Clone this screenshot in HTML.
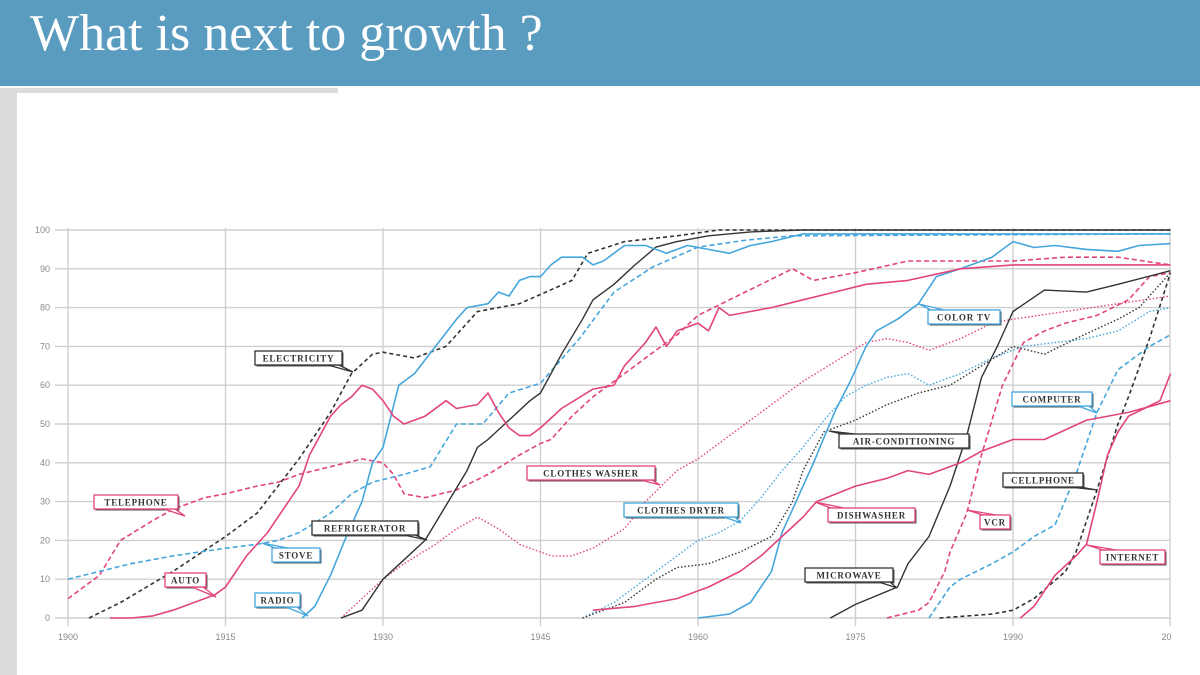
<!DOCTYPE html>
<html><head><meta charset="utf-8"><style>
html,body{margin:0;padding:0;width:1200px;height:675px;overflow:hidden;background:#fff;font-family:"Liberation Sans",sans-serif}
#hdr{position:absolute;left:0;top:0;width:1200px;height:86px;background:#5a9bc0}
#title{position:absolute;left:30px;top:4px;font-family:"Liberation Serif",serif;font-size:52px;color:#fff;line-height:60px}
#strip{position:absolute;left:0;top:88px;width:17px;height:587px;background:#dcdcdc}
#hline{position:absolute;left:0;top:88px;width:338px;height:5px;background:#dcdcdc}
svg{position:absolute;left:0;top:0}
</style></head><body>
<div id="hdr"><div id="title">What is next to growth ?</div></div>
<div id="hline"></div>
<div id="strip"></div>
<svg id="chart" width="1200" height="675"></svg>
<script>
const xTicks=[1900,1915,1930,1945,1960,1975,1990];
const xTickLabels=["1900","1915","1930","1945","1960","1975","1990","20"];
const yTicks=[0,10,20,30,40,50,60,70,80,90,100];
const telephone=[[1900,5],[1903,11],[1905,20],[1908,25],[1910,28],[1913,31],[1915,32],[1918,34],[1920,35],[1922,37],[1925,39],[1928,41],[1930,40],[1931,37],[1932,32],[1934,31],[1937,33],[1940,37],[1943,42],[1945,45],[1946,46],[1948,52],[1950,57],[1953,63],[1955,67],[1958,73],[1960,78],[1963,82],[1966,86],[1969,90],[1971,87],[1975,89],[1980,92],[1985,92],[1990,92],[1995,93],[2000,93],[2005,91]];
const electricity=[[1902,0],[1905,4],[1910,12],[1915,21],[1918,27],[1920,34],[1922,41],[1925,53],[1927,63],[1929,68],[1930,68.5],[1933,67],[1936,70],[1939,79],[1943,81],[1945.5,84],[1948,87],[1949.5,94],[1953,97],[1958,98.5],[1962,100],[2005,100]];
const radio=[[1922.3,0],[1923.5,3],[1925,11],[1926.5,21],[1928,30],[1929,40],[1930,44],[1931.5,60],[1933,63],[1935,70],[1937,77],[1938,80],[1940,81],[1941,84],[1942,83],[1943,87],[1944,88],[1945,88],[1946,91],[1947,93],[1949,93],[1950,91],[1951,92],[1953,96],[1955,96],[1957,94],[1959,96],[1961,95],[1963,94],[1965,96],[1967,97],[1970,99],[1975,99],[2005,99]];
const auto=[[1904,0],[1906,0],[1908,0.5],[1910,2],[1912,4],[1914,6],[1915,8],[1917,16],[1919,22],[1921,30],[1922,34],[1923,42],[1925,52],[1926,55],[1927,57],[1928,60],[1929,59],[1930,56],[1931,52],[1932,50],[1934,52],[1936,56],[1937,54],[1939,55],[1940,58],[1941,53],[1942,49],[1943,47],[1944,47],[1945,49],[1947,54],[1950,59],[1952,60],[1953,65],[1955,71],[1956,75],[1957,70],[1958,74],[1960,76],[1961,74],[1962,80],[1963,78],[1965,79],[1967,80],[1970,82],[1973,84],[1976,86],[1980,87],[1985,90],[1990,91],[1995,91],[2005,91]];
const stove=[[1900,10],[1903,12],[1906,14],[1910,16],[1915,18],[1918,19],[1920,20],[1922,22],[1925,27],[1927,32],[1929,35],[1932,37],[1934.5,39],[1937,50],[1939.5,50],[1942,58],[1945,60.5],[1948.7,72],[1952,84],[1955.7,90.5],[1960,95.6],[1964.6,97.4],[1969,98.5],[2005,99]];
const refrigerator=[[1926,0],[1928,2],[1930,10],[1932,15],[1934,20],[1936,29],[1938,38],[1939,44],[1940,46],[1942,51],[1944,56],[1945,58],[1947,68],[1949,77],[1950,82],[1952,86],[1954,91],[1956,95.6],[1958,97],[1961,98.5],[1965,99.5],[1970,100],[2005,100]];
const washer=[[1926,0],[1928,5],[1930,10],[1932,14],[1935,19],[1937,23],[1939,26],[1941,23],[1943,19],[1946,16],[1948,16],[1950,18],[1953,23],[1955,30],[1956.5,34],[1958,38],[1960,41],[1962,45],[1965,51],[1968,57],[1970,61],[1973,66],[1976,71],[1978,72],[1980,71],[1982,69],[1985,72],[1988,76],[1990,77],[1995,79],[2000,81],[2005,83]];
const dryer=[[1949,0],[1952,4],[1955,10],[1958,16],[1960,20],[1962,22],[1964,25],[1966,31],[1968,38],[1970,44],[1972,51],[1974,57],[1976,60],[1978,62],[1980,63],[1982,60],[1985,63],[1988,67],[1991,70],[1994,71],[1997,72],[2000,74],[2003,79],[2005,80]];
const aircon=[[1949,0],[1953,4],[1956,10],[1958,13],[1961,14],[1964,17],[1967,21],[1969,30],[1970,38],[1972,48],[1975,51],[1978,55],[1981,58],[1984,60],[1987,65],[1990,70],[1993,68],[1996,72],[2000,77],[2002,80],[2005,89]];
const dishwasher=[[1950,2],[1954,3],[1958,5],[1961,8],[1964,12],[1966,16],[1968,21],[1970,26],[1971.3,30],[1975,34],[1978,36],[1980,38],[1982,37],[1985,40],[1987,43],[1990,46],[1993,46],[1997,51],[2001,53],[2005,56]];
const colortv=[[1960,0],[1963,1],[1965,4],[1967,12],[1968,22],[1969,28],[1971,40],[1973,53],[1974.5,61],[1976,70],[1977,74],[1979,77],[1981,81],[1982.7,88],[1985,90],[1988,93],[1990,97],[1992,95.5],[1994,96],[1997,95],[2000,94.5],[2002,96],[2005,96.5]];
const microwave=[[1972.6,0],[1975,3.5],[1979,8],[1980,14],[1982,21],[1984,34],[1985.6,47],[1987,62],[1988.5,70],[1990,79],[1993,84.5],[1997,84],[2000,86],[2005,89.5]];
const vcr=[[1978,0],[1981,2],[1982,4],[1983.5,12],[1984,17],[1985.6,27],[1987,42],[1989,60],[1991,71],[1993,74],[1995,76],[1998,78],[2001,82],[2003,88],[2005,89]];
const computer=[[1982,0],[1984,8],[1985,10],[1988,14],[1990,17],[1992,21],[1994,24],[1996,37],[1998,53],[2000,64],[2003,70],[2005,73]];
const cellphone=[[1983,0],[1988,1],[1990,2],[1992,5],[1995,12],[1996,17],[1998,33],[2000,50],[2001,57],[2003,72],[2005,89]];
const internet=[[1990.7,0],[1992,3],[1994,11],[1996,16],[1997,19],[1998,30],[1999,42],[2000,48],[2001,52],[2004,56],[2005,63]];

const PINK="#e2447e",BLUE="#45a6dc",BLACK="#333";
const X=y=>68+(y-1900)*10.5;
const Y=v=>618-v*3.88;
const NS="http://www.w3.org/2000/svg";
const svg=document.getElementById('chart');
function mk(tag,attrs,parent){const e=document.createElementNS(NS,tag);for(const k in attrs)e.setAttribute(k,attrs[k]);(parent||svg).appendChild(e);return e;}

yTicks.forEach(v=>{
  const l=mk('line',{x1:55,x2:1170,y1:Y(v),y2:Y(v),stroke:'#cfcfcf','stroke-width':1.4});
  
  
  const t=mk('text',{x:50,y:Y(v)+3,'text-anchor':'end','font-size':9,fill:'#888'});
  t.textContent=v;
  
  
});
xTicks.forEach((yr,i)=>{
  const l=mk('line',{x1:X(yr),x2:X(yr),y1:Y(100)-2,y2:Y(0)+8,stroke:'#cfcfcf','stroke-width':1.4});
  
  
});
mk('line',{x1:1170,x2:1170,y1:Y(100)-2,y2:Y(0)+8,stroke:'#cfcfcf','stroke-width':1.4});
xTickLabels.forEach((s,i)=>{
  const t=mk('text',{x:X(1900+15*i)-(i==7?4:0),y:640,'text-anchor':'middle','font-size':9,fill:'#888'});
  t.textContent=s;
  
  
});

const series=[
 ['telephone',telephone,PINK,'5,3',1.6],
 ['electricity',electricity,BLACK,'4,3',1.6],
 ['stove',stove,BLUE,'5,3',1.6],
 ['washer',washer,PINK,'1.5,2',1.4],
 ['dryer',dryer,BLUE,'1.5,2',1.4],
 ['aircon',aircon,BLACK,'1.5,2',1.4],
 ['vcr',vcr,PINK,'5,3',1.6],
 ['computer',computer,BLUE,'5,3',1.6],
 ['cellphone',cellphone,BLACK,'4,3',1.6],
 ['refrigerator',refrigerator,BLACK,'',1.4],
 ['microwave',microwave,BLACK,'',1.4],
 ['radio',radio,BLUE,'',1.6],
 ['colortv',colortv,BLUE,'',1.6],
 ['auto',auto,PINK,'',1.6],
 ['dishwasher',dishwasher,PINK,'',1.6],
 ['internet',internet,PINK,'',1.6]
];
series.forEach(([n,d,c,dash,w])=>{
  const p=mk('polyline',{points:d.map(q=>X(q[0]).toFixed(1)+','+Y(q[1]).toFixed(1)).join(' '),fill:'none',stroke:c,'stroke-width':w,'stroke-dasharray':dash,'stroke-linejoin':'round'});
  
  
});

const callouts=[
 ['TELEPHONE',94,495,84,PINK,185,516,'r'],
 ['AUTO',165,573,41,PINK,216,597,'r'],
 ['ELECTRICITY',255,351,87,BLACK,353,372,'r'],
 ['STOVE',272,548,48,BLUE,262,543,'l'],
 ['REFRIGERATOR',312,521,106,BLACK,427,540,'r'],
 ['RADIO',255,593,45,BLUE,308,616,'r'],
 ['CLOTHES WASHER',527,466,128,PINK,660,485,'r'],
 ['CLOTHES DRYER',624,503,114,BLUE,741,523,'r'],
 ['COLOR TV',928,310,72,BLUE,919,304,'l'],
 ['DISHWASHER',828,508,87,PINK,815,502,'l'],
 ['AIR-CONDITIONING',839,434,130,BLACK,829,431,'l'],
 ['COMPUTER',1012,392,80,BLUE,1097,413,'r'],
 ['CELLPHONE',1003,473,80,BLACK,1097,490,'r'],
 ['VCR',980,515,30,PINK,967,510,'l'],
 ['MICROWAVE',805,568,88,BLACK,897,588,'r'],
 ['INTERNET',1100,550,65,PINK,1087,545,'l']
];
callouts.forEach(([txt,x,y,w,c,px,py,side])=>{
  const g=mk('g',{});
  
  
  const h=14;
  let pts;
  if(side==='r') pts=`${x+w-14},${y+h} ${px},${py} ${x+w-3},${y+h}`;
  else pts=`${x+3},${y} ${px},${py} ${x+16},${y}`;
  if(side==='l' && py>y+h/2) pts=`${x+3},${y+h} ${px},${py} ${x+16},${y+h}`;
  mk('rect',{x:x+1.5,y:y+1.5,width:w,height:h,fill:'#555'},g);
  mk('polygon',{points:pts,fill:'#fff',stroke:c,'stroke-width':1.3},g);
  mk('rect',{x:x,y:y,width:w,height:h,fill:'#fff',stroke:c,'stroke-width':1.3},g);
  const t=mk('text',{x:x+w/2,y:y+10.5,'text-anchor':'middle','font-family':'"Liberation Serif",serif','font-weight':'bold','font-size':9,'letter-spacing':'0.8',fill:'#333'},g);
  t.textContent=txt;
});
</script>
</body></html>
